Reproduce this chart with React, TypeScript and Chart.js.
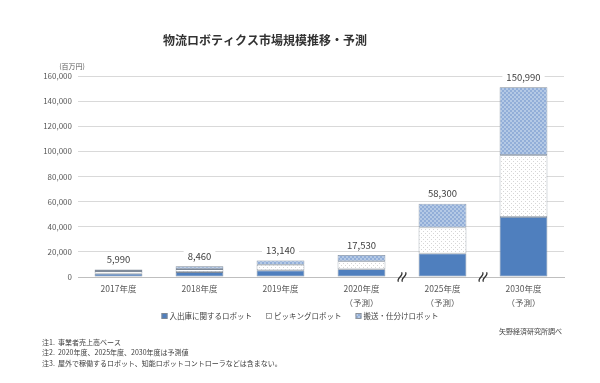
import React, { useEffect, useRef } from "react";
import { Chart, registerables } from "chart.js";
Chart.register(...registerables);

const FONT = '"Noto Sans CJK JP", "Noto Sans", sans-serif';

const titleText = "物流ロボティクス市場規模推移・予測";
const unitText = "(百万円)";
const categories: string[][] = [
  ["2017年度"],
  ["2018年度"],
  ["2019年度"],
  ["2020年度", "（予測）"],
  ["2025年度", "（予測）"],
  ["2030年度", "（予測）"],
];
const seriesNames = ["入出庫に関するロボット", "ピッキングロボット", "搬送・仕分けロボット"];
const inOutRobots = [2700, 3900, 5300, 6200, 18700, 47800];
const pickingRobots = [2000, 2400, 4400, 6300, 20700, 49200];
const sortingRobots = [1290, 2160, 3440, 5030, 18900, 53990];
const totals = [5990, 8460, 13140, 17530, 58300, 150990];
const breakAfter = [3, 4];
const notes = [
  "注1.  事業者売上高ベース",
  "注2.  2020年度、2025年度、2030年度は予測値",
  "注3.  屋外で稼働するロボット、知能ロボットコントローラなどは含まない。",
];
const sourceText = "矢野経済研究所調べ";

export default function App() {
  const ref = useRef<HTMLCanvasElement>(null);
  useEffect(() => {
    const canvas = ref.current!;
    const base = canvas.getContext("2d")!;
    const mk = (w: number, h: number, draw: (g: CanvasRenderingContext2D) => void) => {
      const c = document.createElement("canvas");
      c.width = w;
      c.height = h;
      const g = c.getContext("2d")!;
      draw(g);
      return base.createPattern(c, "repeat")!;
    };
    const checker = mk(4, 4, (g) => {
      g.fillStyle = "#b4c9e5";
      g.fillRect(0, 0, 4, 4);
      g.fillStyle = "#92aed8";
      g.fillRect(0, 0, 2, 2);
      g.fillRect(2, 2, 2, 2);
    });
    const dots = mk(4, 4, (g) => {
      g.fillStyle = "#ffffff";
      g.fillRect(0, 0, 4, 4);
      g.fillStyle = "#d6d6d6";
      g.fillRect(1, 1, 1, 1);
      g.fillRect(3, 3, 1, 1);
    });

    const overlay = {
      id: "overlay",
      afterDraw(chart: any) {
        const { ctx, scales } = chart;
        const x = scales.x;
        const y = scales.y;
        ctx.save();
        ctx.fillStyle = "#333333";
        ctx.font = `bold 12px ${FONT}`;
        ctx.textAlign = "center";
        ctx.textBaseline = "middle";
        ctx.fillText(titleText, 265, 40);
        ctx.font = `7px ${FONT}`;
        ctx.fillStyle = "#595959";
        ctx.textAlign = "center";
        ctx.fillText(unitText, 72, 66);
        ctx.font = `9.5px ${FONT}`;
        totals.forEach((t, i) => {
          const px = x.getPixelForValue(i);
          const py = y.getPixelForValue(t) - 10;
          const s = t.toLocaleString("en-US");
          const w = ctx.measureText(s).width;
          ctx.fillStyle = "#ffffff";
          ctx.fillRect(px - w / 2 - 4, py - 6, w + 8, 12);
          ctx.fillStyle = "#404040";
          ctx.textAlign = "center";
          ctx.fillText(s, px, py);
        });
        ctx.strokeStyle = "#333333";
        ctx.lineWidth = 1.3;
        breakAfter.forEach((i) => {
          const bx = (x.getPixelForValue(i) + x.getPixelForValue(i + 1)) / 2;
          const by = y.getPixelForValue(0);
          for (let k = 0; k < 2; k++) {
            ctx.save();
            ctx.translate(bx - 2 + k * 4, by);
            ctx.rotate(-1.25);
            ctx.beginPath();
            ctx.moveTo(-5, 0);
            ctx.bezierCurveTo(-2, -3.5, 2, 3.5, 5, 0);
            ctx.stroke();
            ctx.restore();
          }
        });
        ctx.font = `7.5px ${FONT}`;
        ctx.textAlign = "left";
        const ds = chart.data.datasets;
        const box = 6;
        const gap = 14;
        const widths = ds.map((d: any) => box + 2 + ctx.measureText(d.label).width);
        const totalW = widths.reduce((a: number, b: number) => a + b, 0) + gap * (ds.length - 1);
        let lx = 300 - totalW / 2;
        const ly = 316;
        ds.forEach((d: any, i: number) => {
          ctx.fillStyle = d.backgroundColor;
          ctx.fillRect(lx, ly - box / 2, box, box);
          ctx.strokeStyle = "#8a8a8a";
          ctx.lineWidth = 0.8;
          ctx.strokeRect(lx + 0.5, ly - box / 2 + 0.5, box - 1, box - 1);
          ctx.fillStyle = "#404040";
          ctx.fillText(d.label, lx + box + 2, ly);
          lx += widths[i] + gap;
        });
        ctx.textAlign = "right";
        ctx.font = `7px ${FONT}`;
        ctx.fillText(sourceText, 562, 331);
        ctx.textAlign = "left";
        notes.forEach((n, i) => ctx.fillText(n, 42, 342 + i * 10.5));
        ctx.restore();
      },
    };

    const chart = new Chart(canvas, {
      type: "bar",
      data: {
        labels: categories as any,
        datasets: [
          { label: seriesNames[0], data: inOutRobots, backgroundColor: "#4f7fbe" as any },
          { label: seriesNames[1], data: pickingRobots, backgroundColor: dots as any },
          { label: seriesNames[2], data: sortingRobots, backgroundColor: checker as any },
        ].map((d) => ({
          ...d,
          borderColor: "#7f8a99",
          borderWidth: 0.8,
          borderSkipped: false,
          categoryPercentage: 1,
          barPercentage: 0.59,
        })),
      },
      options: {
        responsive: false,
        animation: false,
        layout: { padding: { left: 0, right: 36, top: 76, bottom: 0 } },
        plugins: { legend: { display: false }, tooltip: { enabled: false }, title: { display: false } },
        scales: {
          x: {
            stacked: true,
            grid: { display: false, drawTicks: false },
            border: { color: "#bfbfbf" },
            ticks: {
              color: "#595959",
              font: { size: 8.5, family: FONT, lineHeight: 1.65 },
              padding: 5,
              maxRotation: 0,
              autoSkip: false,
            },
            afterFit: (s: any) => {
              s.height = 106;
            },
          },
          y: {
            stacked: true,
            min: 0,
            max: 160000,
            grid: { color: "#d9d9d9", drawTicks: false },
            border: { display: false },
            ticks: {
              stepSize: 20000,
              color: "#595959",
              font: { size: 8, family: FONT },
              padding: 6,
              callback: (v: any) => Number(v).toLocaleString("en-US"),
            },
            afterFit: (s: any) => {
              s.width = 78;
            },
          },
        },
      },
      plugins: [overlay],
    });
    return () => chart.destroy();
  }, []);
  return (
    <div style={{ position: "absolute", left: 0, top: 0, width: 600, height: 383, background: "#fff" }}>
      <canvas ref={ref} width={600} height={383} style={{ display: "block", width: 600, height: 383 }} />
    </div>
  );
}
